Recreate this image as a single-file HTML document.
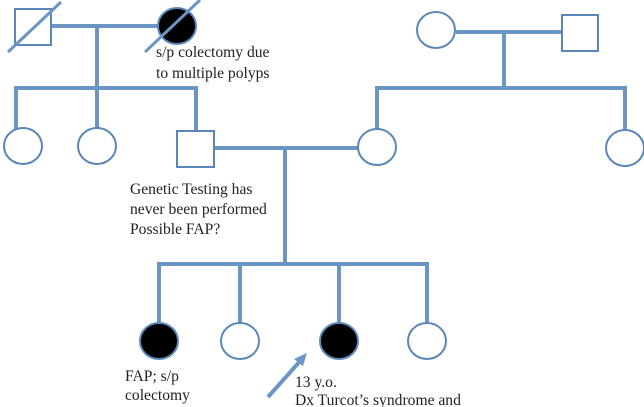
<!DOCTYPE html>
<html><head><meta charset="utf-8"><style>
html,body{margin:0;padding:0;background:#fff;width:644px;height:407px;overflow:hidden}
text{font-family:"Liberation Serif",serif;font-size:15.6px;fill:#222}
</style></head><body>
<svg width="644" height="407" viewBox="0 0 644 407" xmlns="http://www.w3.org/2000/svg">
<g stroke="#6b96c4" stroke-width="4" fill="none">
<line x1="51" y1="26" x2="158" y2="26"/>
<line x1="97" y1="26" x2="97" y2="88"/>
<line x1="14" y1="88" x2="197" y2="88"/>
<line x1="16" y1="86" x2="16" y2="130"/>
<line x1="97" y1="88" x2="97" y2="128"/>
<line x1="196" y1="86" x2="196" y2="131"/>
<line x1="214" y1="148" x2="358" y2="148"/>
<line x1="285" y1="148" x2="285" y2="264"/>
<line x1="456" y1="32" x2="562" y2="32"/>
<line x1="504" y1="32" x2="504" y2="88"/>
<line x1="375" y1="88" x2="627" y2="88"/>
<line x1="377" y1="86" x2="377" y2="130"/>
<line x1="625" y1="86" x2="625" y2="130"/>
<line x1="157" y1="264" x2="429" y2="264"/>
<line x1="159" y1="262" x2="159" y2="324"/>
<line x1="240" y1="264" x2="240" y2="323"/>
<line x1="339" y1="264" x2="339" y2="323"/>
<line x1="427" y1="262" x2="427" y2="323"/>
<line x1="268" y1="397" x2="302" y2="359"/>
</g>
<polygon points="307,353 294,359 303,366" fill="#6b96c4"/>
<g stroke="#5a86b8" stroke-width="2" fill="#fff">
<rect x="15" y="9" width="36" height="36"/>
<ellipse cx="177" cy="26" rx="19" ry="18" fill="#000"/>
<ellipse cx="23" cy="146" rx="19" ry="18"/>
<ellipse cx="97" cy="146" rx="19" ry="18"/>
<rect x="177" y="131" width="37" height="36"/>
<ellipse cx="377" cy="147" rx="19" ry="18"/>
<ellipse cx="625" cy="148" rx="19" ry="18"/>
<ellipse cx="436" cy="30" rx="19" ry="18"/>
<rect x="562" y="15" width="36" height="36"/>
<ellipse cx="159" cy="341" rx="19" ry="18" fill="#000"/>
<ellipse cx="240" cy="341" rx="19" ry="18"/>
<ellipse cx="339" cy="341" rx="19" ry="18" fill="#000"/>
<ellipse cx="427" cy="341" rx="19" ry="18"/>
</g>
<g stroke="#6b96c4" stroke-width="3">
<line x1="8" y1="52" x2="61" y2="2"/>
<line x1="145" y1="52" x2="200" y2="0"/>
</g>
<text x="156" y="57">s/p colectomy due</text>
<text x="156" y="78">to multiple polyps</text>
<text x="130" y="194">Genetic Testing has</text>
<text x="130" y="214">never been performed</text>
<text x="130" y="234">Possible FAP?</text>
<text x="125" y="381">FAP; s/p</text>
<text x="125" y="400">colectomy</text>
<text x="295" y="387">13 y.o.</text>
<text x="295" y="405">Dx Turcot’s syndrome and</text>
</svg>
</body></html>
